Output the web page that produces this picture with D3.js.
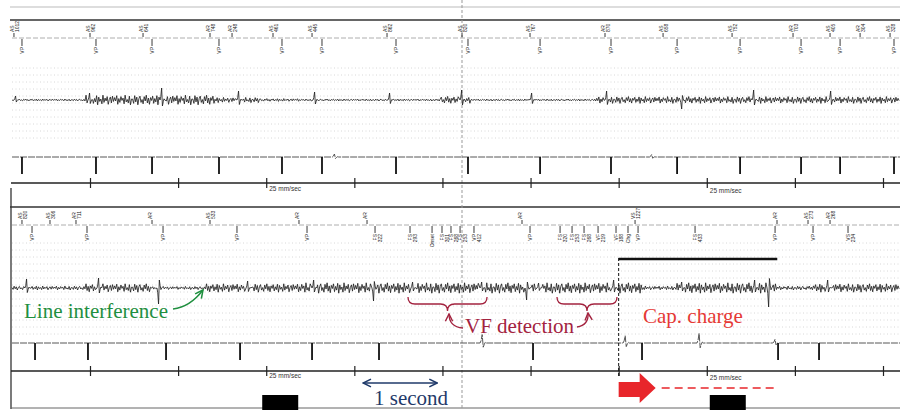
<!DOCTYPE html>
<html>
<head>
<meta charset="utf-8">
<script src="https://cdn.jsdelivr.net/npm/d3@7"></script>
<style>
  body { margin: 0; background: #fff; }
  svg { display: block; }
</style>
</head>
<body>
<svg id="chart" width="900" height="410"></svg>
<script>
// paper speed 25 mm/sec, one tick per second (times in ms)
const timeTicks = [0, 1000, 2000, 3000, 4000, 5000, 6000, 7000, 8000, 9000];

// ---- strip 1 ----
const topAtrialTimes = [-863, 0, 602, 1362, 1612, 2077, 2520, 3371, 4222, 4994, 5845, 6504, 7287, 7979, 8399, 8740, 9080];
const topAtrialLabels = ["AS 1012", "AS 962", "AS 641", "AR 748", "AR 248", "AS 461", "AS 445", "AS 862", "AS 820",
  "AS 767", "AR 870", "AS 658", "AS 752", "AR 703", "AS 405", "AR 304", "AS 328"];
const topVentTimes = [-772, 68, 704, 1464, 2179, 2633, 3473, 4290, 5108, 5913, 6663, 7378, 8070, 8513, 9125];
const topVentLabels = ["VP", "VP", "VP", "VP", "VP", "VP", "VP", "VP", "VP", "VP", "VP", "VP", "VP", "VP", "VP"];
// [time, amplitude mV]
const topQrs = [[-863, 0.2], [-23, 0.35], [795, 0.6], [1668, 0.45], [2531, 0.4], [3382, 0.35], [4200, 0.5],
  [4994, 0.35], [5845, 0.45], [6697, -0.45], [7514, 0.5], [8388, 0.45]];
// [start, end, noise amplitude mV]
const topNoise = [[-1000, -57, 0.05], [-57, 1419, 0.24], [1419, 1930, 0.13], [1930, 2384, 0.07], [2384, 3973, 0.05],
  [3973, 4313, 0.18], [4313, 5732, 0.05], [5732, 9300, 0.17]];
const topCh2Spikes = topVentTimes;
const topCh2Waves = [[2750, 0.25], [6350, 0.2]];

// ---- strip 2 ----
const botAtrialTimes = [-772, -454, -159, 704, 1362, 2372, 3144, 4903, 6186, 7797, 8149, 8399];
const botAtrialLabels = ["AS 820", "AS 306", "AR 711", "AR", "AS 533", "AR", "AR", "AR", "VS 1227", "AR", "AS 273", "AR 268"];
const botVentTimes = [-658, -34, 829, 1668, 2463, 3235, 3632, 3882, 3995, 4097, 4200, 4358, 4994, 5335, 5471, 5607,
  5766, 5970, 6106, 6220, 6867, 7775, 8206, 8603];
const botVentLabels = ["VP", "VP", "VP", "VP", "VP", "FS 322", "FS 293", "Onset", "FS 301", "FS 268", "FS 253", "VP 412",
  "VP", "FS 320", "FS 253", "FS 268", "VF 219", "VF 188", "Chg", "VP", "FS 433", "VP", "VP", "VS 234"];
const botSpikes = [[-738, 0.45], [79, 0.5], [760, -0.8], [1771, 0.35], [2520, 0.4], [3200, -0.65], [3643, 0.3],
  [4427, 0.3], [4937, -0.6], [5073, 0.25], [5925, 0.4], [6697, 0.3], [7525, 0.4], [7684, -0.95], [8354, 0.4]];
const botNoise = [[-1000, -57, 0.1], [-57, 681, 0.21], [681, 1305, 0.08], [1305, 2384, 0.21], [2384, 6277, 0.26],
  [6277, 6663, 0.1], [6663, 7798, 0.26], [7798, 8206, 0.1], [8206, 9300, 0.21]];
const botCh2Spikes = [-624, -23, 863, 1703, 2520, 3280, 5028, 6265, 7809, 8274];
const botCh2Waves = [[4427, 0.7], [6050, 0.6], [6889, 0.8], [7750, 0.3]];

// annotations (ms)
const capStart = 6000, capEnd = 7800;
const vfBraces = [[3609, 4506], [5300, 5981]];
const oneSecond = [3100, 3940];

// hand drawn texture for the noisy baseline and a QRS template
const wiggle = [0.2, -0.7, 0.9, -0.4, 0.6, -1, 0.3, 0.8, -0.5, 0.1, -0.8, 0.7, -0.2, 1, -0.6, 0.4, -0.9, 0.5, -0.1, 0.8,
  -0.7, 0.3, -0.4, 0.9, -1, 0.6, -0.3, 0.2, -0.8, 1, -0.5, 0.4, -0.2, 0.7, -0.9, 0.1, 0.6, -0.6, 0.8, -0.3,
  0.5, -0.2, 0.9, -0.9, 0.3, -0.5, 0.7, -0.1, 0.4, -0.8, 1, -0.4, 0.1, -0.6, 0.8, -1, 0.2];
const qrsShape = [0, 0.3, 1, -0.5, -0.15, 0.1, 0];

const svg = d3.select("#chart");
const x = d3.scaleLinear().domain([0, 9000]).range([90, 883]);
const tMin = -885, tMax = 9194;

// defs: arrow heads
const defs = svg.append("defs");
[["arrGreen", "#1f8f3f"], ["arrRed", "#a3233f"], ["arrNavy", "#1f3a6a"]].forEach(([id, c]) => {
  defs.append("marker").attr("id", id).attr("viewBox", "0 0 10 10").attr("refX", 9).attr("refY", 5)
    .attr("markerWidth", 7).attr("markerHeight", 7).attr("orient", "auto-start-reverse")
    .append("path").attr("d", "M1,1 L9,5 L1,9").attr("fill", "none").attr("stroke", c).attr("stroke-width", 1.6);
});

function ampAt(segs, t) {
  const s = segs.find(d => t >= d[0] && t < d[1]);
  return s ? s[2] : 0;
}

function buildTrace(segs, spikes) {
  const pts = [];
  let i = 0;
  for (let t = tMin; t <= tMax; t += 12, i++) {
    if (spikes.some(s => t > s[0] - 10 && t < s[0] + 62)) continue;
    pts.push([t, wiggle[i % wiggle.length] * ampAt(segs, t)]);
  }
  spikes.forEach(s => qrsShape.forEach((v, k) => pts.push([s[0] + k * 9, v * s[1]])));
  return pts.sort((a, b) => a[0] - b[0]);
}

function faintGrid(y0, y1) {
  svg.append("g").selectAll("line").data(d3.range(y0, y1, 7)).join("line")
    .attr("x1", 12).attr("x2", 900).attr("y1", d => d).attr("y2", d => d)
    .attr("stroke", "#d8d8d8").attr("stroke-width", 1).attr("stroke-dasharray", "1,2.5");
}

function drawMarkers(times, labels, y0, up) {
  const g = svg.append("g");
  const m = g.selectAll("g").data(times.map((t, i) => ({ t, lab: labels[i] }))).join("g")
    .attr("transform", d => `translate(${x(d.t)},${y0})`);
  m.append("line").attr("y1", 0).attr("y2", up ? -4 : 7).attr("stroke", "#222").attr("stroke-width", 0.9);
  m.each(function (d) {
    d.lab.split(" ").forEach((s, j) => {
      d3.select(this).append("text")
        .attr("transform", `translate(${(up ? 0 : 2) + j * 5},${up ? -5 : 8}) rotate(-90)`)
        .attr("text-anchor", up ? "start" : "end")
        .attr("font-family", "Liberation Sans, Arial, sans-serif")
        .attr("font-size", 5).attr("fill", "#222")
        .text(s);
    });
  });
}

function drawTrace(segs, spikes, base) {
  const y = d3.scaleLinear().domain([-1, 1]).range([base + 20, base - 20]);
  const line = d3.line().x(d => x(d[0])).y(d => y(d[1]));
  svg.append("path").datum(buildTrace(segs, spikes)).attr("d", line)
    .attr("fill", "none").attr("stroke", "#222").attr("stroke-width", 0.85);
}

function drawCh2(spikes, waves, base) {
  const y = d3.scaleLinear().domain([-1, 1]).range([base + 12, base - 12]);
  const pts = [[tMin, 0]];
  waves.forEach(w => qrsShape.forEach((v, k) => pts.push([w[0] + k * 12, v * w[1]])));
  pts.push([tMax, 0]);
  pts.sort((a, b) => a[0] - b[0]);
  svg.append("path").datum(pts).attr("d", d3.line().x(d => x(d[0])).y(d => y(d[1])))
    .attr("fill", "none").attr("stroke", "#444").attr("stroke-width", 0.9).attr("stroke-dasharray", "7,1");
  svg.append("g").selectAll("line").data(spikes).join("line")
    .attr("x1", d => x(d)).attr("x2", d => x(d)).attr("y1", base).attr("y2", base + 17)
    .attr("stroke", "#111").attr("stroke-width", 1.8);
}

function drawTimeAxis(yLine, labelTicks) {
  svg.append("line").attr("x1", 11).attr("x2", 900).attr("y1", yLine).attr("y2", yLine)
    .attr("stroke", "#222").attr("stroke-width", 1.3);
  const ax = svg.append("g").attr("transform", `translate(0,${yLine - 5})`)
    .call(d3.axisBottom(x).tickValues(timeTicks).tickSize(10).tickFormat(""));
  ax.select(".domain").remove();
  ax.selectAll("line").attr("stroke", "#222").attr("stroke-width", 1.2);
  labelTicks.forEach(([t, dy]) => {
    svg.append("text").attr("x", x(t) + 3).attr("y", yLine + dy)
      .attr("font-family", "Liberation Sans, Arial, sans-serif").attr("font-size", 6.5).attr("fill", "#333")
      .text("25 mm/sec");
  });
}

// frame lines
svg.append("line").attr("x1", 10).attr("x2", 900).attr("y1", 7).attr("y2", 7).attr("stroke", "#bbb").attr("stroke-width", 1);
svg.append("line").attr("x1", 10).attr("x2", 900).attr("y1", 20).attr("y2", 20).attr("stroke", "#333").attr("stroke-width", 1.5);
svg.append("line").attr("x1", 10).attr("x2", 900).attr("y1", 207).attr("y2", 207).attr("stroke", "#333").attr("stroke-width", 1.5);
svg.append("line").attr("x1", 11).attr("x2", 11).attr("y1", 188).attr("y2", 409).attr("stroke", "#333").attr("stroke-width", 1.3);
svg.append("line").attr("x1", 11).attr("x2", 900).attr("y1", 408).attr("y2", 408).attr("stroke", "#666").attr("stroke-width", 1);
svg.append("line").attr("x1", 462).attr("x2", 462).attr("y1", 0).attr("y2", 410)
  .attr("stroke", "#999").attr("stroke-width", 1).attr("stroke-dasharray", "3,2");

faintGrid(68, 142);
faintGrid(243, 336);

// marker channel baselines
[38, 225].forEach(yb => {
  svg.append("line").attr("x1", 12).attr("x2", 900).attr("y1", yb).attr("y2", yb)
    .attr("stroke", "#999").attr("stroke-width", 0.8).attr("stroke-dasharray", "5,2");
});

// strip 1
drawMarkers(topAtrialTimes, topAtrialLabels, 37, true);
drawMarkers(topVentTimes, topVentLabels, 39, false);
drawTrace(topNoise, topQrs, 100);
drawCh2(topCh2Spikes, topCh2Waves, 157);
drawTimeAxis(183, [[2000, 8], [7000, 10]]);

// strip 2
drawMarkers(botAtrialTimes, botAtrialLabels, 224, true);
drawMarkers(botVentTimes, botVentLabels, 226, false);
drawTrace(botNoise, botSpikes, 288);
drawCh2(botCh2Spikes, botCh2Waves, 343);
drawTimeAxis(371, [[2000, 7], [7000, 9]]);

// black blocks below strip 2
svg.append("g").selectAll("rect").data([2000, 7000]).join("rect")
  .attr("x", (d, i) => x(d) - (i ? -3 : 4)).attr("y", 395).attr("width", 36).attr("height", 15).attr("fill", "#000");

// capacitor charge
svg.append("line").attr("x1", x(capStart)).attr("x2", x(capEnd)).attr("y1", 259).attr("y2", 259)
  .attr("stroke", "#111").attr("stroke-width", 2.5);
svg.append("line").attr("x1", x(capStart)).attr("x2", x(capStart)).attr("y1", 258).attr("y2", 378)
  .attr("stroke", "#111").attr("stroke-width", 1).attr("stroke-dasharray", "3,2");
const ax0 = x(capStart);
svg.append("path")
  .attr("d", `M${ax0},382 L${ax0 + 21},382 L${ax0 + 21},373 L${ax0 + 37},388 L${ax0 + 21},403 L${ax0 + 21},397 L${ax0},397 Z`)
  .attr("fill", "#e8262b");
svg.append("line").attr("x1", ax0 + 43).attr("x2", x(capEnd) - 2).attr("y1", 388).attr("y2", 388)
  .attr("stroke", "#e8262b").attr("stroke-width", 1.5).attr("stroke-dasharray", "8,5");
svg.append("text").attr("x", 643).attr("y", 323).attr("font-family", "Liberation Serif, serif")
  .attr("font-size", 21).attr("fill", "#e53935").text("Cap. charge");

// VF detection braces
const braceG = svg.append("g").attr("fill", "none").attr("stroke", "#a3233f").attr("stroke-width", 1.3);
vfBraces.forEach(([a, b]) => {
  const x0 = x(a), x1 = x(b), xm = (x0 + x1) / 2, y0 = 297, y1 = 304, y2 = 311;
  braceG.append("path").attr("d",
    `M${x0},${y0} Q${x0},${y1} ${x0 + 7},${y1} L${xm - 7},${y1} Q${xm},${y1} ${xm},${y2} ` +
    `Q${xm},${y1} ${xm + 7},${y1} L${x1 - 7},${y1} Q${x1},${y1} ${x1},${y0}`);
});
braceG.append("path").attr("d", "M463,328 Q449,327 449,314").attr("marker-end", "url(#arrRed)");
braceG.append("path").attr("d", "M577,327 Q589,325 588,313").attr("marker-end", "url(#arrRed)");
svg.append("text").attr("x", 465).attr("y", 333).attr("font-family", "Liberation Serif, serif")
  .attr("font-size", 21).attr("fill", "#a3233f").text("VF detection");

// line interference
svg.append("text").attr("x", 24).attr("y", 318).attr("font-family", "Liberation Serif, serif")
  .attr("font-size", 21).attr("fill", "#1f8f3f").text("Line interference");
svg.append("path").attr("d", "M173,309 Q190,307 203,290").attr("fill", "none")
  .attr("stroke", "#1f8f3f").attr("stroke-width", 1.4).attr("marker-end", "url(#arrGreen)");

// one second
svg.append("line").attr("x1", x(oneSecond[0])).attr("x2", x(oneSecond[1])).attr("y1", 383).attr("y2", 383)
  .attr("stroke", "#1f3a6a").attr("stroke-width", 1.4)
  .attr("marker-start", "url(#arrNavy)").attr("marker-end", "url(#arrNavy)");
svg.append("text").attr("x", 374).attr("y", 405).attr("font-family", "Liberation Serif, serif")
  .attr("font-size", 21).attr("fill", "#1f3a6a").text("1 second");
</script>
</body>
</html>
